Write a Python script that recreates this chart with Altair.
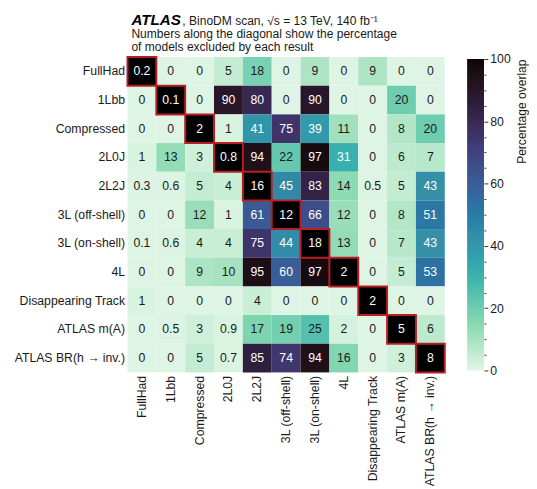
import altair as alt
import pandas as pd

labels = ["FullHad", "1Lbb", "Compressed", "2L0J", "2L2J", "3L (off-shell)",
          "3L (on-shell)", "4L", "Disappearing Track", "ATLAS m(A)", "ATLAS BR(h → inv.)"]

row_FullHad = [0.2, 0, 0, 5, 18, 0, 9, 0, 9, 0, 0]
row_1Lbb = [0, 0.1, 0, 90, 80, 0, 90, 0, 0, 20, 0]
row_Compressed = [0, 0, 2, 1, 41, 75, 39, 11, 0, 8, 20]
row_2L0J = [1, 13, 3, 0.8, 94, 22, 97, 31, 0, 6, 7]
row_2L2J = [0.3, 0.6, 5, 4, 16, 45, 83, 14, 0.5, 5, 43]
row_3Loff = [0, 0, 12, 1, 61, 12, 66, 12, 0, 8, 51]
row_3Lon = [0.1, 0.6, 4, 4, 75, 44, 18, 13, 0, 7, 43]
row_4L = [0, 0, 9, 10, 95, 60, 97, 2, 0, 5, 53]
row_DT = [1, 0, 0, 0, 4, 0, 0, 0, 2, 0, 0]
row_mA = [0, 0.5, 3, 0.9, 17, 19, 25, 2, 0, 5, 6]
row_BR = [0, 0, 5, 0.7, 85, 74, 94, 16, 0, 3, 8]
rows = [row_FullHad, row_1Lbb, row_Compressed, row_2L0J, row_2L2J, row_3Loff,
        row_3Lon, row_4L, row_DT, row_mA, row_BR]

title_main = ["ATLAS"]
title_rest = [", BinoDM scan, √s = 13 TeV, 140 fb⁻¹"]
title_line2 = ["Numbers along the diagonal show the percentage"]
title_line3 = ["of models excluded by each result"]
cbar_title = "Percentage overlap"
cbar_ticks = list(range(0, 101, 5))

# mako_r colour stops
mako_r = ["#def5e5", "#8bdab2", "#40b7ad", "#348fa7", "#37659e", "#413d7b", "#2e1e3b", "#0b0405"]
mako_dom = [i * 100 / 7 for i in range(8)]
cscale = alt.Scale(domain=mako_dom, range=mako_r, clamp=True)

FONT = "Liberation Sans"
FS = 12.5

recs = []
for i, r in enumerate(labels):
    for j, c in enumerate(labels):
        v = rows[i][j]
        recs.append({"row": r, "col": c, "value": v, "label": f"{v:g}", "diag": i == j})
df = pd.DataFrame(recs)

W, H = 324, 322
base = alt.Chart(df).encode(
    x=alt.X("col:N", sort=labels, title=None,
            scale=alt.Scale(paddingInner=0, paddingOuter=0),
            axis=alt.Axis(orient="bottom", labelAngle=270, ticks=False, domain=False,
                          labelPadding=3, labelFontSize=FS, labelFont=FONT,
                          labelColor="#1a1a1a", labelLimit=200)),
    y=alt.Y("row:N", sort=labels, title=None,
            scale=alt.Scale(paddingInner=0, paddingOuter=0),
            axis=alt.Axis(ticks=False, domain=False, labelPadding=3, labelFontSize=FS,
                          labelFont=FONT, labelColor="#1a1a1a", labelLimit=200)),
)
rect = base.mark_rect().encode(color=alt.Color("value:Q", scale=cscale, legend=None))
diag = base.transform_filter("datum.diag").mark_rect(
    fill="black", stroke="#b81f24", strokeWidth=2)
text = base.mark_text(font=FONT, fontSize=FS).encode(
    text="label:N",
    color=alt.condition("datum.diag || datum.value >= 30", alt.value("white"), alt.value("#1a1a1a")),
)


def note(lines, x, y, **kw):
    return alt.Chart(pd.DataFrame({"t": lines})).mark_text(
        font=FONT, align="left", baseline="alphabetic", **kw).encode(
        text="t:N", x=alt.value(x), y=alt.value(y))


t1 = note(title_main, 4, -33, fontSize=15.5, fontWeight="bold", fontStyle="italic", color="black")
t2 = note(title_rest, 56, -33, fontSize=12.3, color="#1a1a1a")
t3 = note(title_line2, 4, -19.5, fontSize=12.3, color="#1a1a1a")
t4 = note(title_line3, 4, -6.5, fontSize=12.3, color="#1a1a1a")

heat = alt.layer(rect, diag, text, t1, t2, t3, t4).properties(width=W, height=H)

cb_v = [i * 0.5 for i in range(200)]
cb_df = pd.DataFrame({"v": cb_v, "v2": [min(x + 1, 100) for x in cb_v]})
cbar = alt.Chart(cb_df).mark_rect().encode(
    y=alt.Y("v:Q", scale=alt.Scale(domain=[0, 100], nice=False),
            axis=alt.Axis(orient="right", values=cbar_ticks,
                          labelExpr="datum.value % 20 === 0 ? datum.label : ''",
                          tickSize=alt.condition("datum.value % 20 === 0", alt.value(4), alt.value(2)),
                          tickColor="#333", domain=False, grid=False, labelFont=FONT,
                          labelFontSize=FS, labelColor="#1a1a1a", labelPadding=2,
                          title=cbar_title, titleAngle=270, titleFont=FONT, titleFontSize=12.3,
                          titleFontWeight="normal", titleColor="#1a1a1a", titleAnchor="end",
                          titleAlign="right", titleBaseline="top", titlePadding=6)),
    y2="v2:Q",
    x=alt.value(0), x2=alt.value(17),
    color=alt.Color("v:Q", scale=cscale, legend=None),
).properties(width=17, height=318)

chart = alt.hconcat(heat, cbar, spacing=23, center=True, bounds="flush").properties(
    padding={"left": 6, "top": 0, "right": 0, "bottom": 0}
).configure_view(stroke=None).resolve_scale(color="independent")

chart.save("out.html", embed_options={"renderer": "svg", "actions": False})
